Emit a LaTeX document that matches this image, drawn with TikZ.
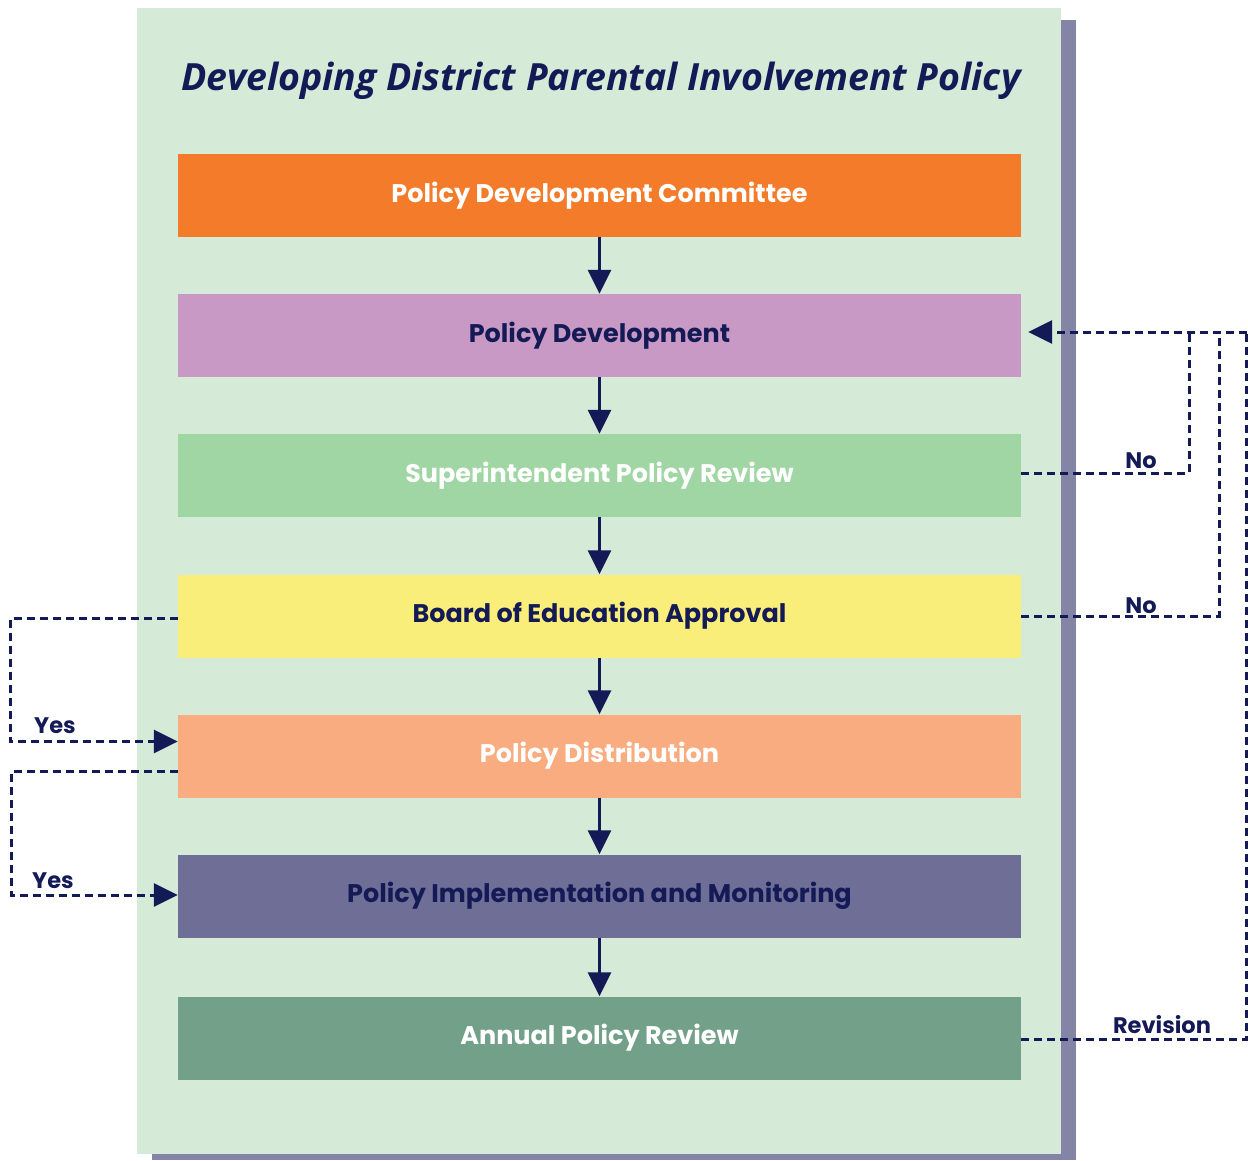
\documentclass[tikz,border=0pt]{standalone}
\usepackage{fontspec}
\setmainfont{Poppins}
\newfontfamily\titlefont{Open Sans}
\usetikzlibrary{arrows.meta,calc}

\definecolor{navy}{HTML}{141A55}
\definecolor{panelbg}{HTML}{D6EAD8}
\definecolor{shadowc}{HTML}{8484A6}
\definecolor{cOrange}{HTML}{F47B2A}
\definecolor{cPink}{HTML}{C999C5}
\definecolor{cGreen}{HTML}{A0D5A4}
\definecolor{cYellow}{HTML}{FAEE7A}
\definecolor{cSalmon}{HTML}{F9AC80}
\definecolor{cSlate}{HTML}{6E6E96}
\definecolor{cDeep}{HTML}{72A088}

\tikzset{
  stagebox/.style={draw=none, minimum width=843pt, minimum height=83pt,
    inner sep=0pt, font=\fontsize{25.5}{30}\selectfont\bfseries},
  flow/.style={navy, line width=2.8pt, -{Triangle[length=24pt,width=23pt]}},
  loopline/.style={navy, line width=3pt, dash pattern=on 8pt off 5pt},
  looparrow/.style={loopline, -{Triangle[length=24pt,width=23pt]}},
  tag/.style={navy, font=\fontsize{22.5}{26}\selectfont\bfseries, inner sep=0pt, anchor=base},
}

\begin{document}
\begin{tikzpicture}[x=1pt, y=-1pt]
  \useasboundingbox (0,0) rectangle (1248,1160);

  % backdrop with its drop shadow
  \fill[shadowc] (152,20) rectangle (1076,1160);
  \fill[panelbg] (137,8) rectangle (1061,1154);

  \node[navy, inner sep=0pt, anchor=base, font=\titlefont\fontsize{37.5}{42}\selectfont\bfseries\itshape]
    (title) at (601,90) {Developing District Parental Involvement Policy};

  % the seven stages
  \node[stagebox, fill=cOrange, text=white] (pdc) at (599.5,195.5) {\raisebox{5pt}{Policy Development Committee}};
  \node[stagebox, fill=cPink,   text=navy]  (pd)  at (599.5,335.5) {\raisebox{5pt}{Policy Development}};
  \node[stagebox, fill=cGreen,  text=white] (spr) at (599.5,475.5) {\raisebox{5pt}{Superintendent Policy Review}};
  \node[stagebox, fill=cYellow, text=navy]  (boe) at (599.5,616)   {\raisebox{5pt}{Board of Education Approval}};
  \node[stagebox, fill=cSalmon, text=white] (dist) at (599.5,756)  {\raisebox{5pt}{Policy Distribution}};
  \node[stagebox, fill=cSlate,  text=navy]  (impl) at (599.5,896)  {\raisebox{5pt}{Policy Implementation and Monitoring}};
  \node[stagebox, fill=cDeep,   text=white] (apr) at (599.5,1038)  {\raisebox{5pt}{Annual Policy Review}};

  % main sequence
  \draw[flow] (pdc.south) -- (pd.north);
  \draw[flow] (pd.south) -- (spr.north);
  \draw[flow] (spr.south) -- (boe.north);
  \draw[flow] (boe.south) -- (dist.north);
  \draw[flow] (dist.south) -- (impl.north);
  \draw[flow] (impl.south) -- (apr.north);

  % feedback loops on the right
  \coordinate (back) at ($(pd.east)+(7,-3.5)$);
  \draw[loopline] ($(spr.east)+(0,-2.5)$) -| (1189,332);
  \draw[loopline] (boe.east) -| (1219,332);
  \draw[loopline] ($(apr.east)+(0,1.5)$) -| (1246.5,332);
  \draw[looparrow] (1246.5,332) -- (back);
  \node[tag] (no1) at (1141,468) {No};
  \node[tag] (no2) at (1141,613) {No};
  \node[tag] (rev) at (1162,1033) {Revision};

  % approvals on the left
  \draw[looparrow] ($(boe.west)+(0,2.5)$) -| (10,741.5) -- ($(dist.west)+(0,-14.5)$);
  \draw[looparrow] ($(dist.west)+(0,15.5)$) -| (11,895) -- ($(impl.west)+(0,-1)$);
  \node[tag] (yes1) at (55,733) {Yes};
  \node[tag] (yes2) at (53,888) {Yes};
\end{tikzpicture}
\end{document}
